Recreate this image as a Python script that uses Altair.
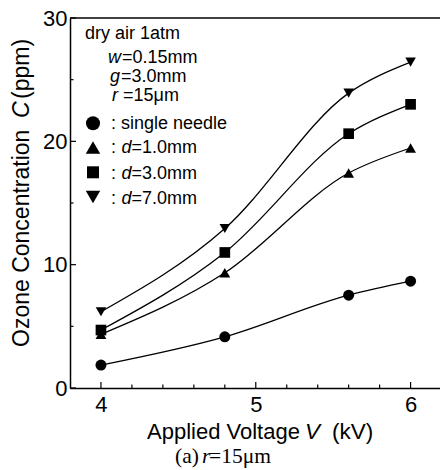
import altair as alt
import pandas as pd

# ---- data ----
voltage = [4.0, 4.8, 5.6, 6.0]
series_names = ["single needle", "d=1.0mm", "d=3.0mm", "d=7.0mm"]
c_single = [1.86, 4.15, 7.53, 8.66]
c_d1 = [4.35, 9.34, 17.43, 19.46]
c_d3 = [4.70, 10.99, 20.62, 23.00]
c_d7 = [6.18, 12.93, 23.91, 26.42]
shapes = ["circle", "triangle-up", "square", "triangle-down"]

x_major = [4, 5, 6]
x_minor = [4.2, 4.4, 4.6, 4.8, 5.2, 5.4, 5.6, 5.8]
y_major = [0, 10, 20, 30]
y_minor = [5, 15, 25]

rows = []
for name, vals in zip(series_names, [c_single, c_d1, c_d3, c_d7]):
    for v, c in zip(voltage, vals):
        rows.append({"V": v, "C": c, "series": name})
df = pd.DataFrame(rows)

L, T = 70, 18          # plot origin in page pixels
W, H = 370, 370

FONT = "Liberation Sans"
SERIF = "Liberation Serif"

xs = alt.Scale(domain=[3.8, 6.19], nice=False, zero=False)
ys = alt.Scale(domain=[0, 30], nice=False)

base = alt.Chart(df)

lines = base.mark_line(interpolate="monotone", color="black", strokeWidth=1.3).encode(
    x=alt.X("V:Q", scale=xs,
            axis=alt.Axis(values=x_major, format="d", title=None, ticks=False, tickSize=0,
                          grid=False, domain=True, domainColor="black", domainWidth=1.5,
                          labelFont=FONT, labelFontSize=22, labelColor="black",
                          labelPadding=6)),
    y=alt.Y("C:Q", scale=ys,
            axis=alt.Axis(values=y_major, title=None, ticks=False, tickSize=0,
                          grid=False, domain=True, domainColor="black", domainWidth=1.5,
                          labelFont=FONT, labelFontSize=22, labelColor="black",
                          labelPadding=3)),
    detail="series:N",
)

points = base.mark_point(filled=True, opacity=1, color="black").encode(
    x=alt.X("V:Q", scale=xs),
    y=alt.Y("C:Q", scale=ys),
    shape=alt.Shape("series:N", scale=alt.Scale(domain=series_names, range=shapes), legend=None),
    size=alt.Size("series:N", scale=alt.Scale(domain=series_names, range=[121, 110, 72, 110]),
                  legend=None),
)

# tick marks pointing inward
xt_major = alt.Chart(pd.DataFrame({"t": x_major})).mark_rule(color="black", strokeWidth=1.2).encode(
    x=alt.X("t:Q", scale=xs), y=alt.value(H), y2=alt.value(H - 6))
xt_minor = alt.Chart(pd.DataFrame({"t": x_minor})).mark_rule(color="black", strokeWidth=1.2).encode(
    x=alt.X("t:Q", scale=xs), y=alt.value(H), y2=alt.value(H - 3.5))
yt_major = alt.Chart(pd.DataFrame({"t": y_major})).mark_rule(color="black", strokeWidth=1.2).encode(
    y=alt.Y("t:Q", scale=ys), x=alt.value(0), x2=alt.value(6))
yt_minor = alt.Chart(pd.DataFrame({"t": y_minor})).mark_rule(color="black", strokeWidth=1.2).encode(
    y=alt.Y("t:Q", scale=ys), x=alt.value(0), x2=alt.value(3.5))

top_border = alt.Chart(pd.DataFrame({"a": [0]})).mark_rule(color="black", strokeWidth=1.5).encode(
    x=alt.value(0), x2=alt.value(W), y=alt.value(0))

one = pd.DataFrame({"a": [0]})


def txt(s, x, y, size, italic=False, font=FONT, angle=0):
    return alt.Chart(one).mark_text(
        text=s, fontSize=size, font=font, fontStyle="italic" if italic else "normal",
        align="left", baseline="alphabetic", angle=angle, color="black"
    ).encode(x=alt.value(x - L), y=alt.value(y - T))


def sym(shape, x, y, size):
    return alt.Chart(one).mark_point(shape=shape, filled=True, opacity=1, color="black",
                                     size=size).encode(x=alt.value(x - L), y=alt.value(y - T))


texts = [
    # axis titles
    txt("Applied Voltage", 147, 439, 22),
    txt("V", 305, 439, 22.5, italic=True),
    txt("(kV)", 332, 439, 22.5),
    txt("Ozone Concentration", 29, 347, 23, angle=270),
    txt("C", 29, 118, 23, italic=True, angle=270),
    txt("(ppm)", 29, 99, 23, angle=270),
    # caption
    txt("(a) ", 175, 463, 21.5, font=SERIF),
    txt("r", 202, 463, 21.5, italic=True, font=SERIF),
    txt("=15\u03bcm", 209, 463, 21.5, font=SERIF),
    # annotation block
    txt("dry air 1atm", 85, 38.5, 18),
    txt("w", 108, 63, 18, italic=True),
    txt("=0.15mm", 122, 63, 18),
    txt("g", 110, 82, 18, italic=True),
    txt("=3.0mm", 121, 82, 18),
    txt("r", 112, 101, 18, italic=True),
    txt("=15\u03bcm", 123, 101, 18),
    # legend
    txt(": single needle", 111, 128.5, 18),
    txt(":", 111, 153, 18), txt("d", 121.5, 153, 18, italic=True), txt("=1.0mm", 131.5, 153, 18),
    txt(":", 111, 178.5, 18), txt("d", 121.5, 178.5, 18, italic=True), txt("=3.0mm", 131.5, 178.5, 18),
    txt(":", 111, 203.5, 18), txt("d", 121.5, 203.5, 18, italic=True), txt("=7.0mm", 131.5, 203.5, 18),
]

legend_syms = [
    sym("circle", 93, 123.3, 196),
    sym("triangle-up", 93, 147.5, 210),
    sym("square", 93, 172.3, 144),
    sym("triangle-down", 93, 197, 210),
]

chart = alt.layer(
    lines, points, xt_major, xt_minor, yt_major, yt_minor, top_border, *texts, *legend_syms
).properties(
    width=W, height=H,
    autosize=alt.AutoSizeParams(type="none"),
    padding={"left": L, "top": T, "right": 0, "bottom": 470 - T - H},
    background="white",
).configure_view(stroke=None)

chart.save("out.html", embed_options={"renderer": "svg", "actions": False})
